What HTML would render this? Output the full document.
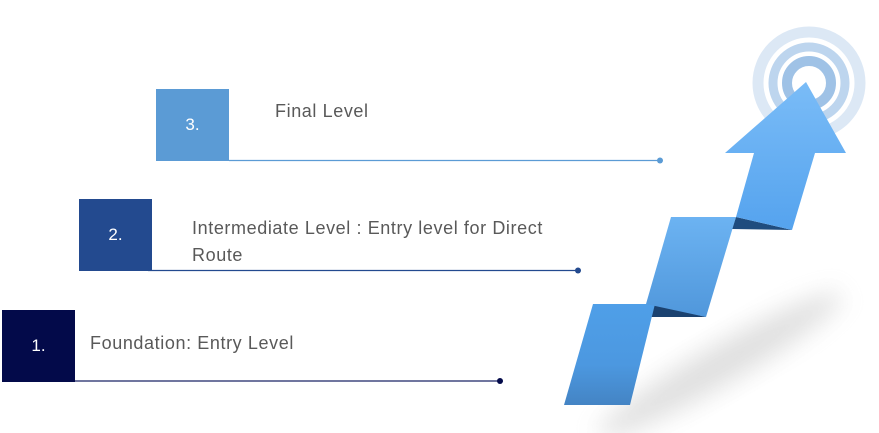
<!DOCTYPE html>
<html><head><style>
body{margin:0;width:879px;height:433px;background:#fff;position:relative;overflow:hidden;font-family:"Liberation Sans",sans-serif}
.b{position:absolute;width:73px;height:72px;color:#fff;font-size:17px;display:flex;align-items:center;justify-content:center}
.t{position:absolute;color:#595959;font-size:18px;line-height:27px;letter-spacing:0.6px}
</style></head><body>
<svg width="879" height="433" style="position:absolute;left:0;top:0">
<defs>
<filter id="bl" x="-50%" y="-50%" width="200%" height="200%"><feGaussianBlur stdDeviation="12"/></filter>
<linearGradient id="g1" x1="0" y1="0" x2="0" y2="1"><stop offset="0" stop-color="#7abcf7"/><stop offset="1" stop-color="#55a3ee"/></linearGradient>
<linearGradient id="g2" x1="0" y1="0" x2="0" y2="1"><stop offset="0" stop-color="#6cb3f2"/><stop offset="1" stop-color="#5097db"/></linearGradient>
<linearGradient id="g3" x1="0" y1="0" x2="0" y2="1"><stop offset="0" stop-color="#4f9fe8"/><stop offset="0.6" stop-color="#4c98e0"/><stop offset="1" stop-color="#4484c4"/></linearGradient>
</defs>
<ellipse cx="720" cy="365" rx="140" ry="20" transform="rotate(-30 720 365)" fill="#bbb" opacity="0.45" filter="url(#bl)"/>
<circle cx="809" cy="83" r="51" fill="none" stroke="#dce8f5" stroke-width="11"/>
<circle cx="809" cy="83" r="36" fill="none" stroke="#bdd5ee" stroke-width="9"/>
<circle cx="809" cy="83" r="22" fill="none" stroke="#9fc2e6" stroke-width="10"/>
<line x1="229" y1="160.5" x2="660" y2="160.5" stroke="#5b9bd5" stroke-width="1.3"/>
<circle cx="660" cy="160.5" r="3" fill="#5b9bd5"/>
<line x1="148" y1="270.5" x2="578" y2="270.5" stroke="#234a8f" stroke-width="1.3"/>
<circle cx="578" cy="270.5" r="3" fill="#234a8f"/>
<line x1="72" y1="381" x2="500" y2="381" stroke="#1a2466" stroke-width="1.3"/>
<circle cx="500" cy="381" r="3" fill="#030a4a"/>
<polygon points="736,217 792,230 732,229" fill="#1f4c7e"/>
<polygon points="655,304 706,317 650,317" fill="#1b4270"/>
<polygon points="564,405 630,405 655,304 593,304" fill="url(#g3)"/>
<polygon points="646,304 706,317 736,217 671,217" fill="url(#g2)"/>
<polygon points="736,217 792,230 815,153 846,153 806,82 725,153 754,153" fill="url(#g1)"/>
</svg>
<div class="b" style="left:156px;top:89px;background:#5b9bd5">3.</div>
<div class="b" style="left:79px;top:199px;background:#234a8f">2.</div>
<div class="b" style="left:2px;top:310px;background:#030a4a">1.</div>
<div class="t" style="left:275px;top:98px">Final Level</div>
<div class="t" style="left:192px;top:215px">Intermediate Level : Entry level for Direct<br>Route</div>
<div class="t" style="left:90px;top:330px">Foundation: Entry Level</div>
</body></html>
